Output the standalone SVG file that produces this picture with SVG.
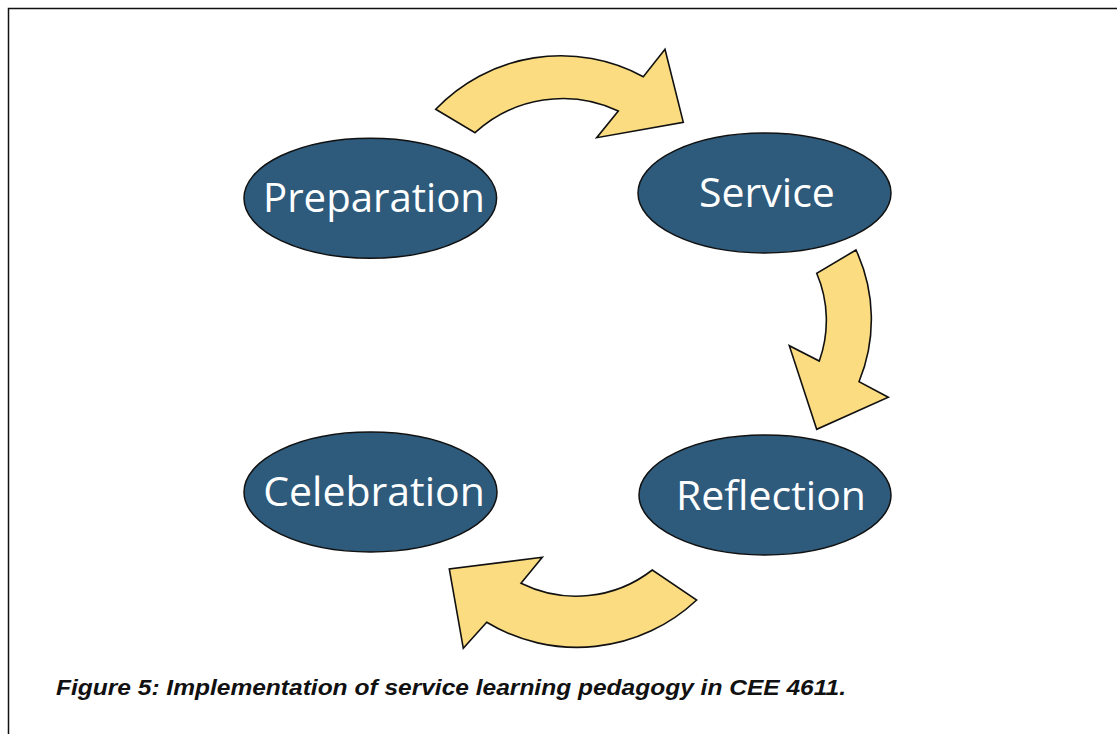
<svg xmlns="http://www.w3.org/2000/svg" width="1117" height="734" viewBox="0 0 1117 734">
<style>
.node ellipse{fill:#2E5A7B;stroke:#111;stroke-width:1.5}
.node text{fill:#fff;font-family:"Open Sans","Noto Sans",sans-serif;font-size:41px;text-anchor:middle}
.arrow{fill:#FBDC80;stroke:#111;stroke-width:1.6;stroke-linejoin:miter}
.cap{font-family:"Liberation Sans",Arial,sans-serif;font-weight:bold;font-style:italic;font-size:22px;fill:#111}
</style>
<rect width="1117" height="734" fill="#fff"/>
<path d="M8.5 734 V8.5 H1117" fill="none" stroke="#111" stroke-width="1.5"/>
<g id="connectors">
<path class="arrow" d="M435.7 109.3 A173 173 0 0 1 643.3 76.7 L665 49.3 L683.3 122.3 L596.7 137.7 L618.3 111 A130 130 0 0 0 475 132.7 Z"/>
<path class="arrow" d="M856 250 A164 164 0 0 1 859 381.7 L888.3 397.3 L816.7 429.3 L789.3 345.7 L819.3 361 A120 120 0 0 0 816.7 273.3 Z"/>
<path class="arrow" d="M696.7 600 A175 175 0 0 1 486.7 622.3 L463.3 648.3 L449.3 569 L542.3 557.3 L521 583.3 A124 124 0 0 0 652.3 570 Z"/>
</g>
<g id="preparation" class="node"><ellipse cx="370.3" cy="198.2" rx="126.3" ry="60"/><text x="374" y="212" textLength="222" lengthAdjust="spacingAndGlyphs">Preparation</text></g>
<g id="service" class="node"><ellipse cx="764.5" cy="193" rx="126.5" ry="60"/><text x="767" y="207">Service</text></g>
<g id="celebration" class="node"><ellipse cx="370.5" cy="492" rx="126.5" ry="60"/><text x="374" y="505.5">Celebration</text></g>
<g id="reflection" class="node"><ellipse cx="765" cy="495" rx="126" ry="60"/><text x="771" y="509.5">Reflection</text></g>
<text class="cap" x="56" y="695" textLength="790" lengthAdjust="spacingAndGlyphs">Figure 5: Implementation of service learning pedagogy in CEE 4611.</text>
</svg>
